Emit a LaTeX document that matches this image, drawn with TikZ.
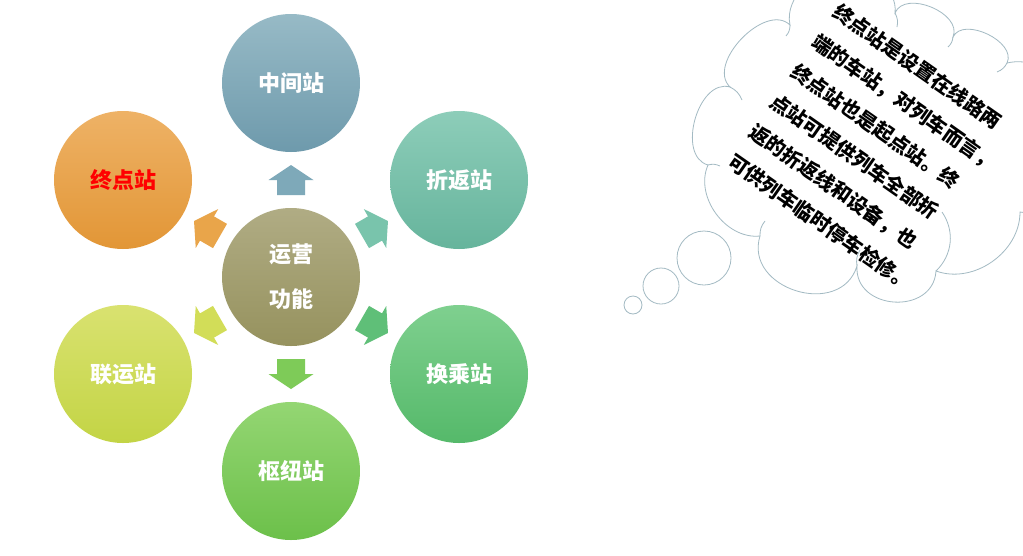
\documentclass[tikz,border=0pt]{standalone}
\usepackage{fontspec}
\newfontfamily\cjk{Noto Sans CJK SC}
\usetikzlibrary{calc}
\definecolor{ctrT}{HTML}{B0AC84}\definecolor{ctrB}{HTML}{96925E}
\definecolor{s1T}{HTML}{97BAC6}\definecolor{s1B}{HTML}{6E9AAC}
\definecolor{s2T}{HTML}{8DCDB9}\definecolor{s2B}{HTML}{66B49C}
\definecolor{s3T}{HTML}{7FD08F}\definecolor{s3B}{HTML}{55B96A}
\definecolor{s4T}{HTML}{94D673}\definecolor{s4B}{HTML}{6CC04A}
\definecolor{s5T}{HTML}{D9E270}\definecolor{s5B}{HTML}{C3D445}
\definecolor{s6T}{HTML}{EEB266}\definecolor{s6B}{HTML}{E29636}
\definecolor{a1}{HTML}{7EA9B9}\definecolor{a2}{HTML}{79C4AC}
\definecolor{a3}{HTML}{5FBF78}\definecolor{a4}{HTML}{7ECB58}
\definecolor{a5}{HTML}{D2DD58}\definecolor{a6}{HTML}{E9A54A}
\definecolor{cloudc}{HTML}{A3BAC3}
\definecolor{redtxt}{HTML}{FF0000}
\begin{document}
\begin{tikzpicture}[x=1pt,y=-1pt,
  station/.style={circle, minimum size=138pt, inner sep=0pt, text=white,
    font=\cjk\bfseries\fontsize{22}{45}\selectfont, align=center},
  cloudline/.style={draw=cloudc, line width=0.8pt},
  notetext/.style={font=\cjk\bfseries\fontsize{20}{36.6}\selectfont, align=left, inner sep=0pt, text=black}]
\useasboundingbox (0,0) rectangle (1023,555);
\fill[white] (0,0) rectangle (1023,555);

% stations
\node[station, top color=ctrT, bottom color=ctrB] (ctr) at (291,277) {运营\\功能};
\node[station, top color=s1T, bottom color=s1B] (s1) at (291,83) {中间站};
\node[station, top color=s2T, bottom color=s2B] (s2) at (459,180) {折返站};
\node[station, top color=s3T, bottom color=s3B] (s3) at (459,374) {换乘站};
\node[station, top color=s4T, bottom color=s4B] (s4) at (291,471) {枢纽站};
\node[station, top color=s5T, bottom color=s5B] (s5) at (123,374) {联运站};
\node[station, top color=s6T, bottom color=s6B, text=redtxt] (s6) at (123,180) {终点站};

% block arrows
\foreach \s/\a/\c in {s1/90/a1, s2/30/a2, s3/-30/a3, s4/-90/a4, s5/-150/a5, s6/150/a6} {
  \begin{scope}[shift={($(ctr)!0.5!(\s)$)}, rotate=\a]
    \fill[\c] (-15,-14) -- (0,-14) -- (0,-22.5) -- (15,0) -- (0,22.5) -- (0,14) -- (-15,14) -- cycle;
  \end{scope}
}

% thought cloud
\path[cloudline, fill=white]
  (790,25) to[bend right=90] (730,87)
  to[bend right=90, looseness=1.05] (708,165)
  to[bend right=60] (760,236)
  to[bend right=90, looseness=1.4] (857,266)
  to[bend right=90, looseness=1.45] (936,271)
  to[bend right=55] (1020,212)
  to[bend right=60] (1080,140)
  to[bend right=60] (1007,63)
  to[bend right=90] (953,37)
  to[bend right=90, looseness=1.05] (895,13)
  to[bend right=60] (845,-25)
  to[bend right=60] (790,25) -- cycle;
\draw[cloudline] (790,25) to[bend left=20] (786,36);
\draw[cloudline] (730,87) to[bend left=20] (742,100);
\draw[cloudline] (708,165) to[bend left=20] (720,166);
\draw[cloudline] (760,236) to[bend left=20] (765,221);
\draw[cloudline] (857,266) to[bend left=20] (860,250);
\draw[cloudline] (936,271) to[bend right=40] (942,212);
\draw[cloudline] (895,13) to[bend left=20] (897,27);
\draw[cloudline] (953,37) to[bend left=20] (948,47);
\draw[cloudline] (1007,63) to[bend left=20] (997,72);
\coordinate (tail) at (704,258);
\draw[cloudline, fill=white] (tail) circle[radius=27];
\draw[cloudline, fill=white] (661,286) circle[radius=18];
\draw[cloudline, fill=white] (633,305) circle[radius=9];

\node[notetext, rotate=-35, anchor=north west] (note) at (841,1) {终点站是设置在线路两\\
端的车站，对列车而言，\\
终点站也是起点站。终\\
点站可提供列车全部折\\
返的折返线和设备，也\\
可供列车临时停车检修。};
\end{tikzpicture}
\end{document}
